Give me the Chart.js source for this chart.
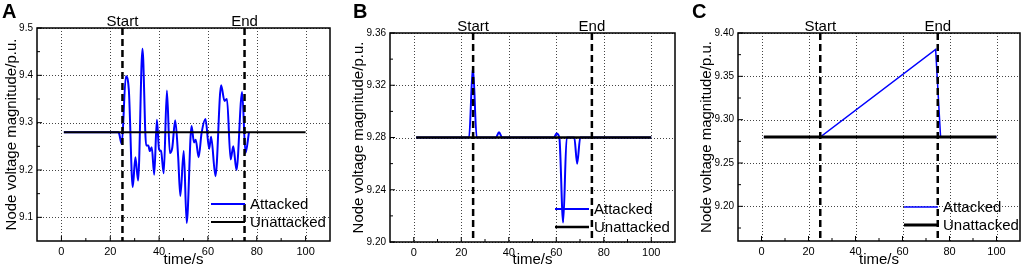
<!DOCTYPE html>
<html>
<head>
<meta charset="utf-8">
<script src="https://cdn.jsdelivr.net/npm/chart.js@4/dist/chart.umd.min.js"></script>
<style>
  html, body { margin: 0; padding: 0; background: #fff; }
  #wrap { position: relative; width: 1024px; height: 269px; overflow: hidden; }
  .panel { position: absolute; top: 0; height: 269px; }
</style>
</head>
<body>
<div id="wrap">
  <div class="panel" style="left:0;width:340px"><canvas id="chartA" width="340" height="269"></canvas></div>
  <div class="panel" style="left:340px;width:340px"><canvas id="chartB" width="340" height="269"></canvas></div>
  <div class="panel" style="left:680px;width:344px"><canvas id="chartC" width="344" height="269"></canvas></div>
</div>
<script>
// === Datos ===
const xTicks = [0, 20, 40, 60, 80, 100];
const xMinor = [10, 30, 50, 70, 90];
const attackStart = 25;
const attackEnd = 75;

// Panel A
const aTime = [1, 23.3, 23.6, 24.7, 26.4, 27.6, 29.2, 30.3, 31.4, 33.2, 34.7, 35.6, 36.2, 37, 38, 39.1, 40, 40.8, 41.9, 43.2, 44.4, 45.4, 46.6, 47.8, 48.7, 50.1, 51.3, 53.3, 54.3, 55, 56.2, 57.4, 59, 60.5, 61.3, 63.1, 65.4, 66.8, 67.8, 69.3, 70.4, 71.7, 74, 75.4, 76.8];
const aAttacked = [9.28, 9.28, 9.278, 9.255, 9.398, 9.37, 9.164, 9.227, 9.178, 9.456, 9.252, 9.252, 9.24, 9.248, 9.19, 9.306, 9.243, 9.24, 9.193, 9.368, 9.236, 9.247, 9.305, 9.229, 9.145, 9.24, 9.088, 9.293, 9.258, 9.264, 9.227, 9.278, 9.308, 9.245, 9.27, 9.187, 9.379, 9.346, 9.35, 9.222, 9.25, 9.2, 9.365, 9.236, 9.279];
const aBaseTime = [1, 100];
const aUnattacked = [9.28, 9.28];
const aYTicks = [9.1, 9.2, 9.3, 9.4, 9.5];
const aYMinor = [9.15, 9.25, 9.35, 9.45];

// Panel B
const bTime = [1, 23.3, 24.9, 26.5, 34.6, 35.9, 37.2, 59, 60.1, 61.3, 62.9, 64.4, 67.6, 68.8, 70.1, 100];
const bAttacked = [9.28, 9.28, 9.334, 9.28, 9.28, 9.284, 9.28, 9.28, 9.283, 9.28, 9.215, 9.28, 9.28, 9.26, 9.28, 9.28];
const bBaseTime = [1, 100];
const bUnattacked = [9.28, 9.28];
const bYTicks = [9.20, 9.24, 9.28, 9.32, 9.36];
const bYMinor = [9.22, 9.26, 9.30, 9.34];

// Panel C
const cTime = [1, 25, 74.1, 76.2, 100];
const cAttacked = [9.28, 9.28, 9.381, 9.28, 9.28];
const cBaseTime = [1, 100];
const cUnattacked = [9.28, 9.28];
const cYTicks = [9.20, 9.25, 9.30, 9.35, 9.40];
const cYMinor = [9.175, 9.225, 9.275, 9.325, 9.375];

const toPoints = (xs, ys) => xs.map((t, i) => ({ x: t, y: ys[i] }));

Chart.defaults.font.family = '"Liberation Sans", Arial, sans-serif';
Chart.defaults.color = '#000';

// Marco, rejilla, marcas, leyenda y etiquetas Start/End
const framePlugin = {
  id: 'frame',
  beforeDatasetsDraw(chart, args, opts) {
    const { ctx, chartArea: a, scales: { x, y } } = chart;
    ctx.save();
    ctx.strokeStyle = '#444';
    ctx.lineWidth = 1;
    ctx.setLineDash([1, 2]);
    ctx.beginPath();
    xTicks.forEach(v => {
      const px = Math.round(x.getPixelForValue(v)) + 0.5;
      ctx.moveTo(px, a.top); ctx.lineTo(px, a.bottom);
    });
    opts.yTicks.forEach(v => {
      const py = Math.round(y.getPixelForValue(v)) + 0.5;
      ctx.moveTo(a.left, py); ctx.lineTo(a.right, py);
    });
    ctx.stroke();
    ctx.restore();
  },
  afterDatasetsDraw(chart, args, opts) {
    const { ctx, chartArea: a, scales: { x, y } } = chart;
    ctx.save();

    // lineas de inicio / fin del ataque
    ctx.strokeStyle = '#000';
    ctx.lineWidth = 2.5;
    ctx.setLineDash([7, 4]);
    [attackStart, attackEnd].forEach(v => {
      const px = x.getPixelForValue(v);
      ctx.beginPath(); ctx.moveTo(px, a.top); ctx.lineTo(px, a.bottom); ctx.stroke();
    });
    ctx.setLineDash([]);

    // marco
    ctx.lineWidth = 1.5;
    ctx.strokeRect(a.left, a.top, a.right - a.left, a.bottom - a.top);

    // marcas hacia dentro
    ctx.lineWidth = 1;
    ctx.beginPath();
    xTicks.forEach(v => { const px = x.getPixelForValue(v); ctx.moveTo(px, a.bottom); ctx.lineTo(px, a.bottom - 5); });
    xMinor.forEach(v => { const px = x.getPixelForValue(v); ctx.moveTo(px, a.bottom); ctx.lineTo(px, a.bottom - 3); });
    opts.yTicks.forEach(v => { const py = y.getPixelForValue(v); ctx.moveTo(a.left, py); ctx.lineTo(a.left + 5, py); });
    opts.yMinor.forEach(v => { const py = y.getPixelForValue(v); ctx.moveTo(a.left, py); ctx.lineTo(a.left + 3, py); });
    ctx.stroke();

    // etiquetas Start / End
    ctx.fillStyle = '#000';
    ctx.font = '15px "Liberation Sans", Arial, sans-serif';
    ctx.textAlign = 'center';
    ctx.textBaseline = 'alphabetic';
    ctx.fillText('Start', x.getPixelForValue(attackStart), a.top - 2);
    ctx.fillText('End', x.getPixelForValue(attackEnd), a.top - 2);

    // leyenda
    const lg = opts.legend;
    ctx.textAlign = 'left';
    ctx.textBaseline = 'middle';
    chart.data.datasets.slice().sort((p, q) => p.legendIndex - q.legendIndex).forEach((ds, i) => {
      const ly = lg.y + i * 18;
      ctx.strokeStyle = ds.borderColor;
      ctx.lineWidth = ds.borderWidth;
      ctx.beginPath(); ctx.moveTo(lg.x, ly); ctx.lineTo(lg.x + 34, ly); ctx.stroke();
      ctx.fillText(ds.label, lg.x + 39, ly + 1);
    });

    // letra del panel
    ctx.font = 'bold 20px "Liberation Sans", Arial, sans-serif';
    ctx.textBaseline = 'alphabetic';
    ctx.fillText(opts.letter, opts.letterX, 18);
    ctx.restore();
  }
};

function makePanel(id, p) {
  const ctx = document.getElementById(id).getContext('2d');
  return new Chart(ctx, {
    type: 'line',
    data: {
      datasets: [{
        label: 'Attacked',
        legendIndex: 0,
        data: p.attacked,
        borderColor: 'rgb(0, 0, 255)',
        borderWidth: p.blueWidth,
        pointRadius: 0,
        cubicInterpolationMode: p.smooth ? 'monotone' : 'default',
        tension: 0,
        order: 2
      }, {
        label: 'Unattacked',
        legendIndex: 1,
        data: p.unattacked,
        borderColor: '#000',
        borderWidth: p.blackWidth,
        pointRadius: 0,
        tension: 0,
        order: 1
      }]
    },
    options: {
      responsive: false,
      animation: false,
      layout: { padding: { left: 0, right: p.padRight, top: p.padTop, bottom: 0 } },
      plugins: {
        legend: { display: false },
        tooltip: { enabled: false },
        frame: {
          yTicks: p.yTicks,
          yMinor: p.yMinor,
          legend: p.legend,
          letter: p.letter,
          letterX: p.letterX
        }
      },
      scales: {
        x: {
          type: 'linear',
          min: -10,
          max: 110,
          afterBuildTicks: s => { s.ticks = xTicks.map(v => ({ value: v })); },
          afterFit: s => { s.height = p.xAxisH; },
          grid: { display: false, drawTicks: false },
          border: { display: false },
          ticks: { font: { size: 11 }, padding: p.xTickPad, maxRotation: 0, autoSkip: false },
          title: { display: true, text: 'time/s', font: { size: 15 }, padding: { top: 0, bottom: 0 } }
        },
        y: {
          min: p.yMin,
          max: p.yMax,
          afterBuildTicks: s => { s.ticks = p.yTicks.map(v => ({ value: v })); },
          afterFit: s => { s.width = p.yAxisW; },
          grid: { display: false, drawTicks: false },
          border: { display: false },
          ticks: {
            font: { size: 10 },
            padding: 4,
            autoSkip: false,
            callback: v => Number(v).toFixed(p.decimals)
          },
          title: {
            display: true,
            text: 'Node voltage magnitude/p.u.',
            font: { size: 15 },
            padding: { top: p.yTitlePad, bottom: 0 }
          }
        }
      }
    },
    plugins: [framePlugin]
  });
}

makePanel('chartA', {
  attacked: toPoints(aTime, aAttacked),
  unattacked: toPoints(aBaseTime, aUnattacked),
  smooth: true, blueWidth: 2, blackWidth: 2,
  yMin: 9.05, yMax: 9.5, yTicks: aYTicks, yMinor: aYMinor, decimals: 1,
  padRight: 10, padTop: 28, yAxisW: 37, xAxisH: 28, xTickPad: 4, yTitlePad: 3,
  legend: { x: 211, y: 204 }, letter: 'A', letterX: 2
});

makePanel('chartB', {
  attacked: toPoints(bTime, bAttacked),
  unattacked: toPoints(bBaseTime, bUnattacked),
  smooth: true, blueWidth: 2, blackWidth: 2.5,
  yMin: 9.20, yMax: 9.36, yTicks: bYTicks, yMinor: bYMinor, decimals: 2,
  padRight: 5, padTop: 33, yAxisW: 50, xAxisH: 27, xTickPad: 4, yTitlePad: 10,
  legend: { x: 215, y: 209 }, letter: 'B', letterX: 13
});

makePanel('chartC', {
  attacked: toPoints(cTime, cAttacked),
  unattacked: toPoints(cBaseTime, cUnattacked),
  smooth: false, blueWidth: 1.5, blackWidth: 3,
  yMin: 9.16, yMax: 9.40, yTicks: cYTicks, yMinor: cYMinor, decimals: 2,
  padRight: 4, padTop: 33, yAxisW: 58, xAxisH: 28, xTickPad: 4, yTitlePad: 18,
  legend: { x: 224, y: 207 }, letter: 'C', letterX: 12
});
</script>
</body>
</html>
